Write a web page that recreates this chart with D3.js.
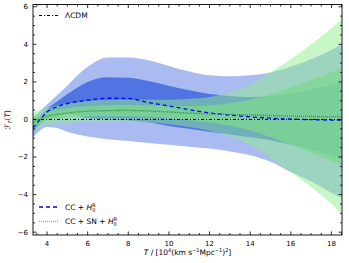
<!DOCTYPE html>
<html>
<head>
<meta charset="utf-8">
<script src="https://cdn.jsdelivr.net/npm/d3@7"></script>
<style>
  body { margin: 0; background: #fff; }
  text { font-family: 'DejaVu Sans', sans-serif; fill: #000; }
</style>
</head>
<body>
<div id="root"></div>
<script>
// valori
const xs = [3.3, 3.7, 4, 4.5, 5, 5.5, 6, 7, 8, 9, 10, 11, 12, 13, 14, 15, 16, 17, 18, 18.5];

// CC + H0R (blu)
const ccMean = [-0.45, 0.05, 0.4, 0.68, 0.85, 0.95, 1.03, 1.13, 1.12, 0.9, 0.72, 0.52, 0.35, 0.23, 0.14, 0.07, 0.02, -0.01, -0.03, -0.03];
const cc95Up = [0.1, 0.5, 0.8, 1.3, 1.8, 2.35, 2.8, 3.3, 3.3, 3.15, 2.85, 2.55, 2.35, 2.3, 2.35, 2.5, 2.8, 3.2, 3.7, 4.0];
const cc95Lo = [-1.0, -0.55, -0.4, -0.45, -0.65, -0.8, -0.9, -1.05, -1.15, -1.25, -1.35, -1.45, -1.55, -1.7, -1.9, -2.25, -2.8, -3.3, -3.9, -4.2];
const cc68Up = [-0.2, 0.25, 0.55, 0.95, 1.35, 1.7, 2.0, 2.25, 2.22, 2.05, 1.8, 1.55, 1.35, 1.25, 1.2, 1.25, 1.4, 1.6, 1.85, 2.0];
const cc68Lo = [-0.7, -0.2, 0.0, 0.1, 0.3, 0.2, 0.06, 0.0, -0.05, -0.15, -0.35, -0.5, -0.65, -0.8, -0.95, -1.1, -1.35, -1.6, -1.9, -2.05];

// CC + SN + H0R (verde)
const snMean = [-0.15, 0.05, 0.17, 0.27, 0.34, 0.4, 0.44, 0.47, 0.48, 0.45, 0.4, 0.34, 0.3, 0.27, 0.24, 0.21, 0.18, 0.16, 0.15, 0.15];
const sn95Up = [0.35, 0.5, 0.6, 0.75, 0.85, 0.93, 0.98, 1.03, 1.05, 1.05, 1.05, 1.1, 1.2, 1.45, 1.85, 2.5, 3.2, 4.0, 4.85, 5.35];
const sn95Lo = [-0.65, -0.4, -0.3, -0.25, -0.2, -0.15, -0.12, -0.1, -0.1, -0.15, -0.25, -0.4, -0.6, -0.9, -1.35, -2.05, -2.8, -3.6, -4.5, -5.0];
const sn68Up = [0.1, 0.27, 0.38, 0.5, 0.6, 0.66, 0.71, 0.75, 0.77, 0.75, 0.72, 0.72, 0.75, 0.86, 1.05, 1.35, 1.7, 2.1, 2.5, 2.75];
const sn68Lo = [-0.4, -0.17, -0.04, 0.04, 0.08, 0.14, 0.17, 0.19, 0.19, 0.15, 0.08, -0.04, -0.15, -0.32, -0.57, -0.93, -1.34, -1.78, -2.2, -2.45];

const xTicks = [4, 6, 8, 10, 12, 14, 16, 18];
const yTicks = [-6, -4, -2, 0, 2, 4, 6];

const w = 349;
const h = 263;
const margin = { top: 4.5, right: 7, bottom: 28, left: 33 };

const xScale = d3.scaleLinear()
  .domain([3.31, 18.52])
  .range([margin.left, w - margin.right]);

const yScale = d3.scaleLinear()
  .domain([-6.15, 6.12])
  .range([h - margin.bottom, margin.top]);

const svg = d3.select('#root')
  .append('svg')
  .attr('width', w)
  .attr('height', h);

svg.append('clipPath')
  .attr('id', 'clip')
  .append('rect')
  .attr('x', margin.left)
  .attr('y', margin.top)
  .attr('width', w - margin.left - margin.right)
  .attr('height', h - margin.top - margin.bottom);

const plot = svg.append('g').attr('clip-path', 'url(#clip)');

function band(lo, up) {
  return d3.area()
    .x((d, i) => xScale(xs[i]))
    .y0((d, i) => yScale(lo[i]))
    .y1((d, i) => yScale(up[i]))
    .curve(d3.curveMonotoneX)(xs);
}

function line(vals) {
  return d3.line()
    .x((d, i) => xScale(xs[i]))
    .y((d, i) => yScale(vals[i]))
    .curve(d3.curveMonotoneX)(xs);
}

// bande
plot.append('path').attr('d', band(cc95Lo, cc95Up)).attr('fill', '#4169e1').attr('fill-opacity', 0.45);
plot.append('path').attr('d', band(cc68Lo, cc68Up)).attr('fill', '#4169e1').attr('fill-opacity', 0.85);
plot.append('path').attr('d', band(sn95Lo, sn95Up)).attr('fill', '#90ee90').attr('fill-opacity', 0.5);
plot.append('path').attr('d', band(sn68Lo, sn68Up)).attr('fill', '#7ed88f').attr('fill-opacity', 0.75);

// LCDM
plot.append('line')
  .attr('x1', margin.left).attr('x2', w - margin.right)
  .attr('y1', yScale(0)).attr('y2', yScale(0))
  .attr('stroke', '#000').attr('stroke-width', 1)
  .attr('stroke-dasharray', '3,2,1,2');

// medie
plot.append('path').attr('d', line(ccMean))
  .attr('fill', 'none').attr('stroke', '#0000ff').attr('stroke-width', 1.3)
  .attr('stroke-dasharray', '4,3');
plot.append('path').attr('d', line(snMean))
  .attr('fill', 'none').attr('stroke', '#1f9e1f').attr('stroke-width', 1.3)
  .attr('stroke-dasharray', '1,1');

// assi con tacche interne su tutti i lati
const x0 = margin.left, x1 = w - margin.right, y0 = h - margin.bottom, y1 = margin.top;
const ticks = svg.append('g').attr('stroke', '#000').attr('stroke-width', 0.8);
d3.range(3.5, 18.6, 0.5).forEach(v => {
  const major = xTicks.includes(v);
  const len = major ? 3.5 : 2;
  const px = xScale(v);
  ticks.append('line').attr('x1', px).attr('x2', px).attr('y1', y0).attr('y2', y0 - len);
  ticks.append('line').attr('x1', px).attr('x2', px).attr('y1', y1).attr('y2', y1 + len);
});
d3.range(-6, 6.01, 0.5).forEach(v => {
  const major = yTicks.includes(v);
  const len = major ? 3.5 : 2;
  const py = yScale(v);
  ticks.append('line').attr('x1', x0).attr('x2', x0 + len).attr('y1', py).attr('y2', py);
  ticks.append('line').attr('x1', x1).attr('x2', x1 - len).attr('y1', py).attr('y2', py);
});

svg.append('rect')
  .attr('x', x0).attr('y', y1)
  .attr('width', x1 - x0).attr('height', y0 - y1)
  .attr('fill', 'none').attr('stroke', '#000').attr('stroke-width', 0.9);

svg.selectAll('.xt')
  .data(xTicks)
  .enter()
  .append('text')
  .attr('x', d => xScale(d))
  .attr('y', y0 + 11)
  .attr('text-anchor', 'middle')
  .style('font-size', '7px')
  .text(d => d);

svg.selectAll('.yt')
  .data(yTicks)
  .enter()
  .append('text')
  .attr('x', x0 - 5)
  .attr('y', d => yScale(d))
  .attr('dy', '0.35em')
  .attr('text-anchor', 'end')
  .style('font-size', '7px')
  .text(d => d < 0 ? '\u2212' + Math.abs(d) : d);

// etichette assi
const xl = svg.append('text')
  .attr('x', (x0 + x1) / 2)
  .attr('y', 255)
  .attr('text-anchor', 'middle')
  .style('font-size', '7.5px');
xl.append('tspan').style('font-style', 'italic').text('T');
xl.append('tspan').text(' / [10');
xl.append('tspan').attr('dy', -3).style('font-size', '5px').text('4');
xl.append('tspan').attr('dy', 3).text('(km s');
xl.append('tspan').attr('dy', -3).style('font-size', '5px').text('\u22121');
xl.append('tspan').attr('dy', 3).text('Mpc');
xl.append('tspan').attr('dy', -3).style('font-size', '5px').text('\u22121');
xl.append('tspan').attr('dy', 3).text(')');
xl.append('tspan').attr('dy', -3).style('font-size', '5px').text('2');
xl.append('tspan').attr('dy', 3).text(']');

const yl = svg.append('text')
  .attr('transform', `translate(10, ${(y0 + y1) / 2}) rotate(-90)`)
  .attr('text-anchor', 'middle')
  .style('font-size', '7.5px');
yl.append('tspan').style('font-style', 'italic').text('\u2131');
yl.append('tspan').attr('dy', 2).style('font-size', '5px').style('font-style', 'italic').text('T');
yl.append('tspan').attr('dy', -2).text('(');
yl.append('tspan').style('font-style', 'italic').text('T');
yl.append('tspan').text(')');

// legende
svg.append('line')
  .attr('x1', 39).attr('x2', 59).attr('y1', 15.5).attr('y2', 15.5)
  .attr('stroke', '#000').attr('stroke-width', 1).attr('stroke-dasharray', '3,2,1,2');
svg.append('text').attr('x', 65).attr('y', 15.5).attr('dy', '0.35em')
  .style('font-size', '7.5px').text('\u039BCDM');

svg.append('line')
  .attr('x1', 39).attr('x2', 58).attr('y1', 207).attr('y2', 207)
  .attr('stroke', '#0000ff').attr('stroke-width', 1.3).attr('stroke-dasharray', '4,3');
const l1 = svg.append('text').attr('x', 65).attr('y', 207).attr('dy', '0.35em')
  .style('font-size', '7.5px');
l1.append('tspan').text('CC + ');
l1.append('tspan').style('font-style', 'italic').text('H');
l1.append('tspan').attr('dy', 2).style('font-size', '5px').text('0');
l1.append('tspan').attr('dx', -3).attr('dy', -5).style('font-size', '5px').text('R');

svg.append('line')
  .attr('x1', 39).attr('x2', 58).attr('y1', 221.5).attr('y2', 221.5)
  .attr('stroke', '#6fcf6f').attr('stroke-width', 1.3).attr('stroke-dasharray', '1,1');
const l2 = svg.append('text').attr('x', 65).attr('y', 221.5).attr('dy', '0.35em')
  .style('font-size', '7.5px');
l2.append('tspan').text('CC + SN + ');
l2.append('tspan').style('font-style', 'italic').text('H');
l2.append('tspan').attr('dy', 2).style('font-size', '5px').text('0');
l2.append('tspan').attr('dx', -3).attr('dy', -5).style('font-size', '5px').text('R');
</script>
</body>
</html>
